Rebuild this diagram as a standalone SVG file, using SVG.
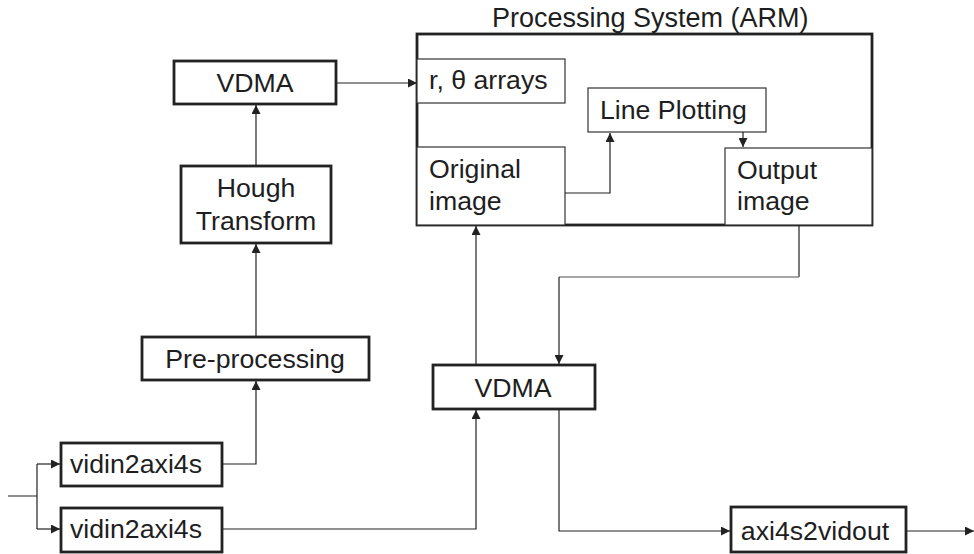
<svg xmlns="http://www.w3.org/2000/svg" width="974" height="554" viewBox="0 0 974 554">
  <defs>
    <marker id="arrow" viewBox="0 0 10 10" refX="10" refY="5" markerWidth="9" markerHeight="9" markerUnits="userSpaceOnUse" orient="auto">
      <path d="M0,0 L10,5 L0,10 z" fill="#222"/>
    </marker>
    <style>
      .block { fill: #fff; stroke: #222; stroke-width: 2.8; }
      .inner { fill: #fff; stroke: #333; stroke-width: 1.2; }
      .lbl { font-family: "Liberation Sans", Arial, sans-serif; font-size: 26.7px; fill: #1e1e1e; }
      .title { font-size: 27px; }
      .mid { text-anchor: middle; }
      .wire { fill: none; stroke: #222; stroke-width: 1.2; }
      .wire-light { fill: none; stroke: #888; stroke-width: 1.4; }
    </style>
  </defs>

  <rect width="974" height="554" fill="#fff"/>

  <!-- Processing System container with its internal buffers -->
  <g id="processing-system">
    <text class="lbl title" x="492" y="27">Processing System (ARM)</text>
    <rect class="block" x="417" y="34" width="455" height="191"/>
  </g>
  <g id="r-theta-arrays">
    <rect class="inner" x="417" y="59" width="148" height="44"/>
    <text class="lbl" x="429" y="89">r, θ arrays</text>
  </g>
  <g id="line-plotting">
    <rect class="inner" x="588" y="88" width="178" height="44"/>
    <text class="lbl" x="600" y="119">Line Plotting</text>
  </g>
  <g id="original-image">
    <rect class="inner" x="417" y="147" width="148" height="78"/>
    <text class="lbl" x="429" y="178">Original</text>
    <text class="lbl" x="429" y="210">image</text>
  </g>
  <g id="output-image">
    <rect class="inner" x="725" y="148" width="147" height="77"/>
    <text class="lbl" x="737" y="179">Output</text>
    <text class="lbl" x="737" y="210">image</text>
  </g>

  <!-- Programmable logic blocks -->
  <g id="vdma-top">
    <rect class="block" x="174" y="61" width="162" height="43"/>
    <text class="lbl mid" x="255" y="92">VDMA</text>
  </g>
  <g id="hough-transform">
    <rect class="block" x="181" y="166" width="150" height="77"/>
    <text class="lbl mid" x="256" y="197">Hough</text>
    <text class="lbl mid" x="256" y="230">Transform</text>
  </g>
  <g id="pre-processing">
    <rect class="block" x="142" y="337" width="227" height="43"/>
    <text class="lbl mid" x="255" y="368">Pre-processing</text>
  </g>
  <g id="vidin2axi4s-a">
    <rect class="block" x="61" y="443" width="161" height="43"/>
    <text class="lbl mid" x="136" y="473">vidin2axi4s</text>
  </g>
  <g id="vidin2axi4s-b">
    <rect class="block" x="61" y="508" width="161" height="44"/>
    <text class="lbl mid" x="136" y="538">vidin2axi4s</text>
  </g>
  <g id="vdma-bottom">
    <rect class="block" x="433" y="365" width="162" height="44"/>
    <text class="lbl mid" x="513" y="397">VDMA</text>
  </g>
  <g id="axi4s2vidout">
    <rect class="block" x="731" y="507" width="175" height="45"/>
    <text class="lbl mid" x="815" y="540">axi4s2vidout</text>
  </g>

  <!-- Connectors -->
  <g id="connectors">
    <path class="wire" d="M8,496 H37 M37,464 V529"/>
    <path class="wire" marker-end="url(#arrow)" d="M37,464 H60"/>
    <path class="wire" marker-end="url(#arrow)" d="M37,529 H60"/>
    <path class="wire" marker-end="url(#arrow)" d="M222,464 H256 V381"/>
    <path class="wire" marker-end="url(#arrow)" d="M256,337 V244"/>
    <path class="wire" marker-end="url(#arrow)" d="M256,166 V105"/>
    <path class="wire" marker-end="url(#arrow)" d="M336,83 H417"/>
    <path class="wire" marker-end="url(#arrow)" d="M222,529 H476 V410"/>
    <path class="wire" marker-end="url(#arrow)" d="M476,365 V226"/>
    <path class="wire" marker-end="url(#arrow)" d="M565,193 H610 V133"/>
    <path class="wire" marker-end="url(#arrow)" d="M743,132 V147"/>
    <path class="wire" d="M799,225 V277"/>
    <path class="wire-light" d="M799,277 H559"/>
    <path class="wire" marker-end="url(#arrow)" d="M559,277 V364"/>
    <path class="wire" marker-end="url(#arrow)" d="M559,409 V531 H730"/>
    <path class="wire" marker-end="url(#arrow)" d="M906,531 H974"/>
  </g>
</svg>
